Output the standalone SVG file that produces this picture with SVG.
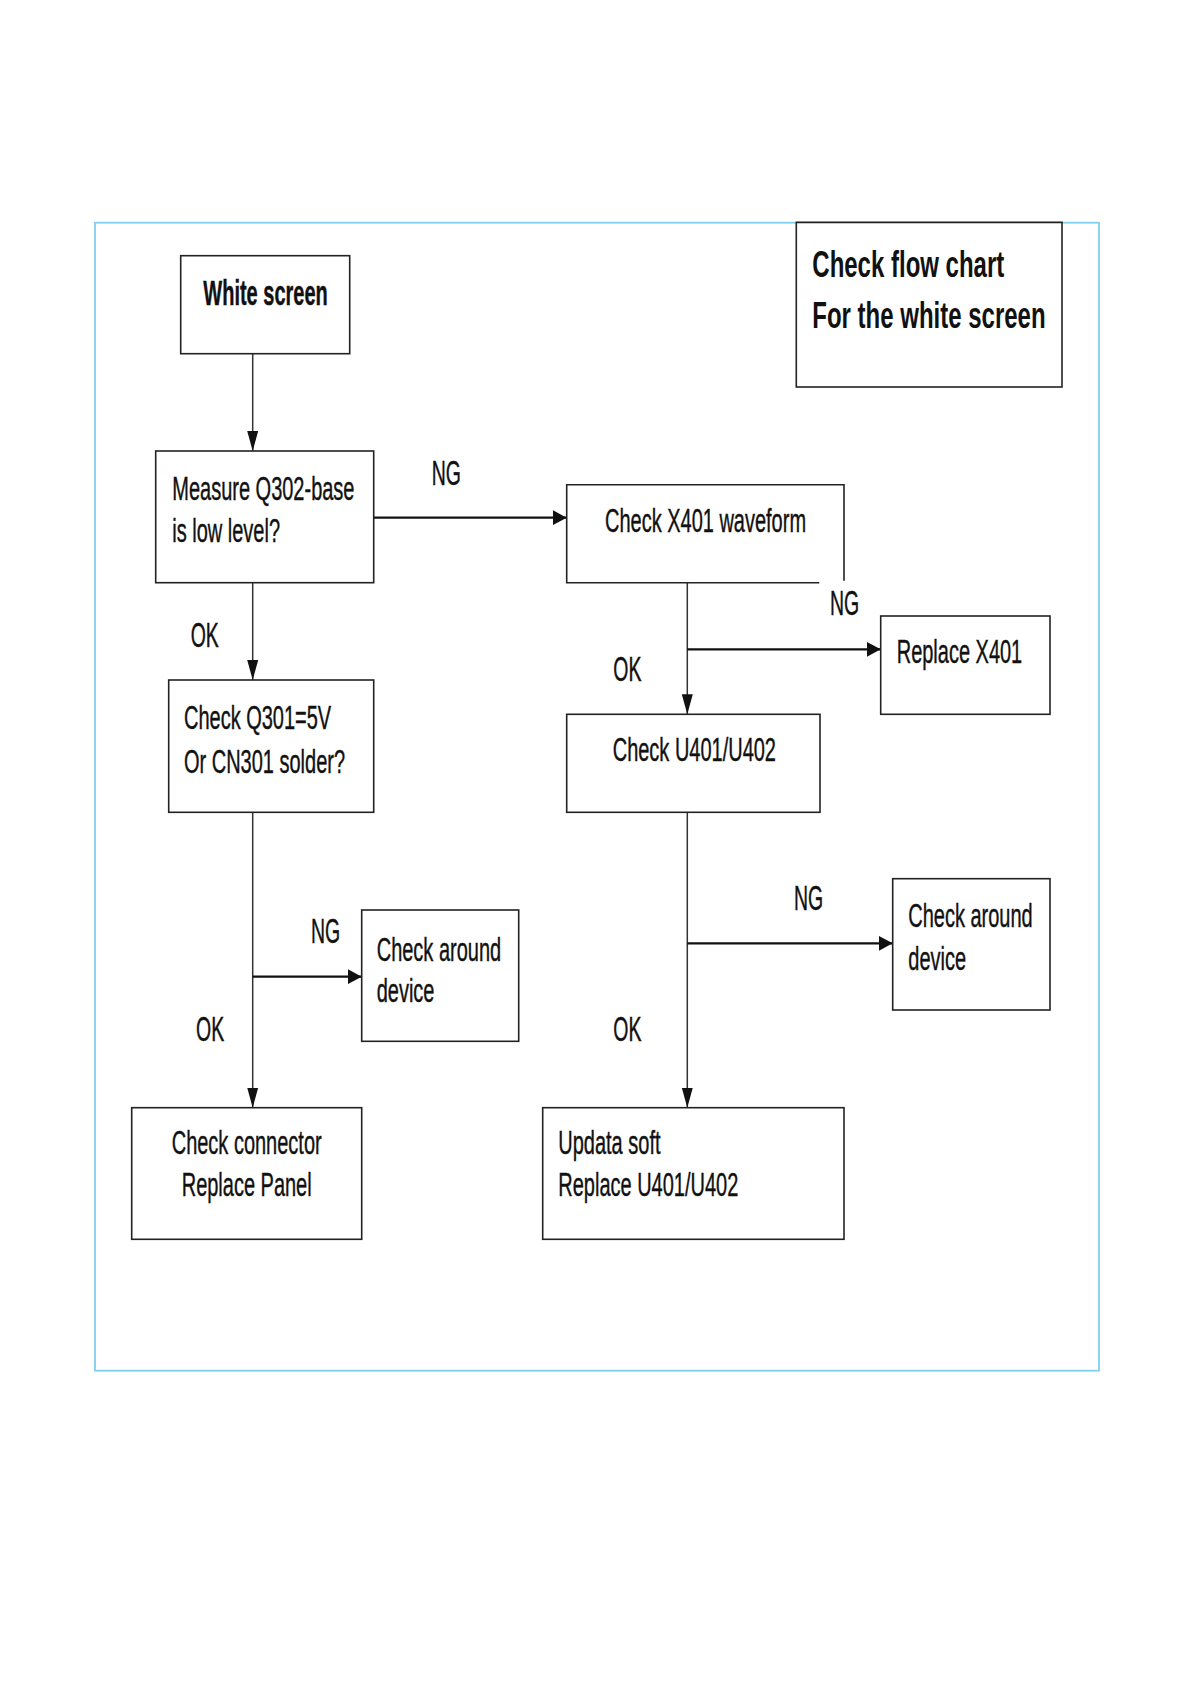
<svg xmlns="http://www.w3.org/2000/svg" width="1190" height="1684" viewBox="0 0 1190 1684">
<style>
.box{fill:none;stroke:#222;stroke-width:1.6}
.frame{fill:none;stroke:#7fd0ee;stroke-width:1.8}
.t{font-family:"Liberation Sans",Arial,sans-serif;font-size:20px;fill:#111;stroke:#111;stroke-width:0.25}
.b{font-weight:bold}
.lbl{font-family:"Liberation Sans",Arial,sans-serif;font-size:19.5px;fill:#111;stroke:#111;stroke-width:0.25}
.ttl{font-family:"Liberation Sans",Arial,sans-serif;font-size:24px;font-weight:bold;fill:#111}
.cv{fill:none;stroke:#333;stroke-width:1.5;marker-end:url(#arrV)}
.ch{fill:none;stroke:#111;stroke-width:2.2;marker-end:url(#arrH)}
</style>
<defs>
<marker id="arrV" markerUnits="userSpaceOnUse" markerWidth="20" markerHeight="12" refX="20" refY="6" orient="auto">
<path d="M0,0.5 L20,6 L0,11.5 z" fill="#111"/>
</marker>
<marker id="arrH" markerUnits="userSpaceOnUse" markerWidth="14" markerHeight="16" refX="14" refY="8" orient="auto">
<path d="M0,0.5 L14,8 L0,15.5 z" fill="#111"/>
</marker>
</defs>
<rect width="1190" height="1684" fill="#fff"/>
<rect class="frame" x="95" y="222.7" width="1004" height="1148"/>

<g id="connectors">
<line class="cv" x1="252.7" y1="353.7" x2="252.7" y2="451"/>
<line class="ch" x1="373.7" y1="517.7" x2="566.7" y2="517.7"/>
<line class="cv" x1="252.7" y1="582.7" x2="252.7" y2="680"/>
<line class="cv" x1="252.7" y1="812.3" x2="252.7" y2="1107.7"/>
<line class="ch" x1="252.7" y1="976.7" x2="361.7" y2="976.7"/>
<line class="cv" x1="687.3" y1="582.7" x2="687.3" y2="714.3"/>
<line class="ch" x1="687.3" y1="649.3" x2="880.7" y2="649.3"/>
<line class="cv" x1="687.3" y1="812.3" x2="687.3" y2="1107.7"/>
<line class="ch" x1="687.3" y1="943.3" x2="892.7" y2="943.3"/>
<text class="lbl" transform="translate(431.7 485) scale(1 1.82)">NG</text>
<text class="lbl" transform="translate(190.7 647.3) scale(1 1.82)">OK</text>
<text class="lbl" transform="translate(311 943.3) scale(1 1.82)">NG</text>
<text class="lbl" transform="translate(196 1040.7) scale(1 1.82)">OK</text>
<text class="lbl" transform="translate(830 615) scale(1 1.82)">NG</text>
<text class="lbl" transform="translate(613.3 680.7) scale(1 1.82)">OK</text>
<text class="lbl" transform="translate(794 910) scale(1 1.82)">NG</text>
<text class="lbl" transform="translate(613.3 1040.7) scale(1 1.82)">OK</text>
</g>

<g id="title">
<rect class="box" x="796.3" y="222.3" width="265.7" height="164.7"/>
<text class="ttl" transform="translate(812.3 277.3) scale(1 1.57)">Check flow chart</text>
<text class="ttl" transform="translate(812.3 328.3) scale(1 1.57)">For the white screen</text>
</g>

<g id="white-screen">
<rect class="box" x="180.7" y="255.7" width="169" height="98"/>
<text class="t b" transform="translate(203.3 305) scale(1 1.78)">White screen</text>
</g>

<g id="measure">
<rect class="box" x="155.7" y="451" width="218" height="131.7"/>
<text class="t" transform="translate(172.3 500) scale(1 1.68)">Measure Q302-base</text>
<text class="t" transform="translate(172.3 541.7) scale(1 1.68)">is low level?</text>
</g>

<g id="check-q301">
<rect class="box" x="168.7" y="680" width="205" height="132.3"/>
<text class="t" transform="translate(184 729.3) scale(1 1.68)">Check Q301=5V</text>
<text class="t" transform="translate(184 772.7) scale(1 1.68)">Or CN301 solder?</text>
</g>

<g id="check-around-left">
<rect class="box" x="361.7" y="910" width="157" height="131.3"/>
<text class="t" transform="translate(376.7 960.7) scale(1 1.68)">Check around</text>
<text class="t" transform="translate(376.7 1002) scale(1 1.68)">device</text>
</g>

<g id="check-connector">
<rect class="box" x="131.7" y="1107.7" width="230" height="131.6"/>
<text class="t" transform="translate(171.7 1154.3) scale(1 1.68)">Check connector</text>
<text class="t" transform="translate(181.7 1196) scale(1 1.68)">Replace Panel</text>
</g>

<g id="check-x401">
<path class="box" d="M819.3,582.7 H566.7 V484.7 H844 V580.7"/>
<text class="t" transform="translate(605 531.7) scale(1 1.68)">Check X401 waveform</text>
</g>

<g id="replace-x401">
<rect class="box" x="880.7" y="616" width="169.3" height="98.3"/>
<text class="t" transform="translate(896.7 663.3) scale(1 1.68)">Replace X401</text>
</g>

<g id="check-u401">
<rect class="box" x="566.7" y="714.3" width="253.3" height="98"/>
<text class="t" transform="translate(612.7 761) scale(1 1.68)">Check U401/U402</text>
</g>

<g id="check-around-right">
<rect class="box" x="892.7" y="878.7" width="157.3" height="131.3"/>
<text class="t" transform="translate(908.3 926.7) scale(1 1.68)">Check around</text>
<text class="t" transform="translate(908.3 970) scale(1 1.68)">device</text>
</g>

<g id="updata-soft">
<rect class="box" x="542.7" y="1107.7" width="301.3" height="131.6"/>
<text class="t" transform="translate(558.3 1154.3) scale(1 1.68)">Updata soft</text>
<text class="t" transform="translate(558.3 1196) scale(1 1.68)">Replace U401/U402</text>
</g>
</svg>
